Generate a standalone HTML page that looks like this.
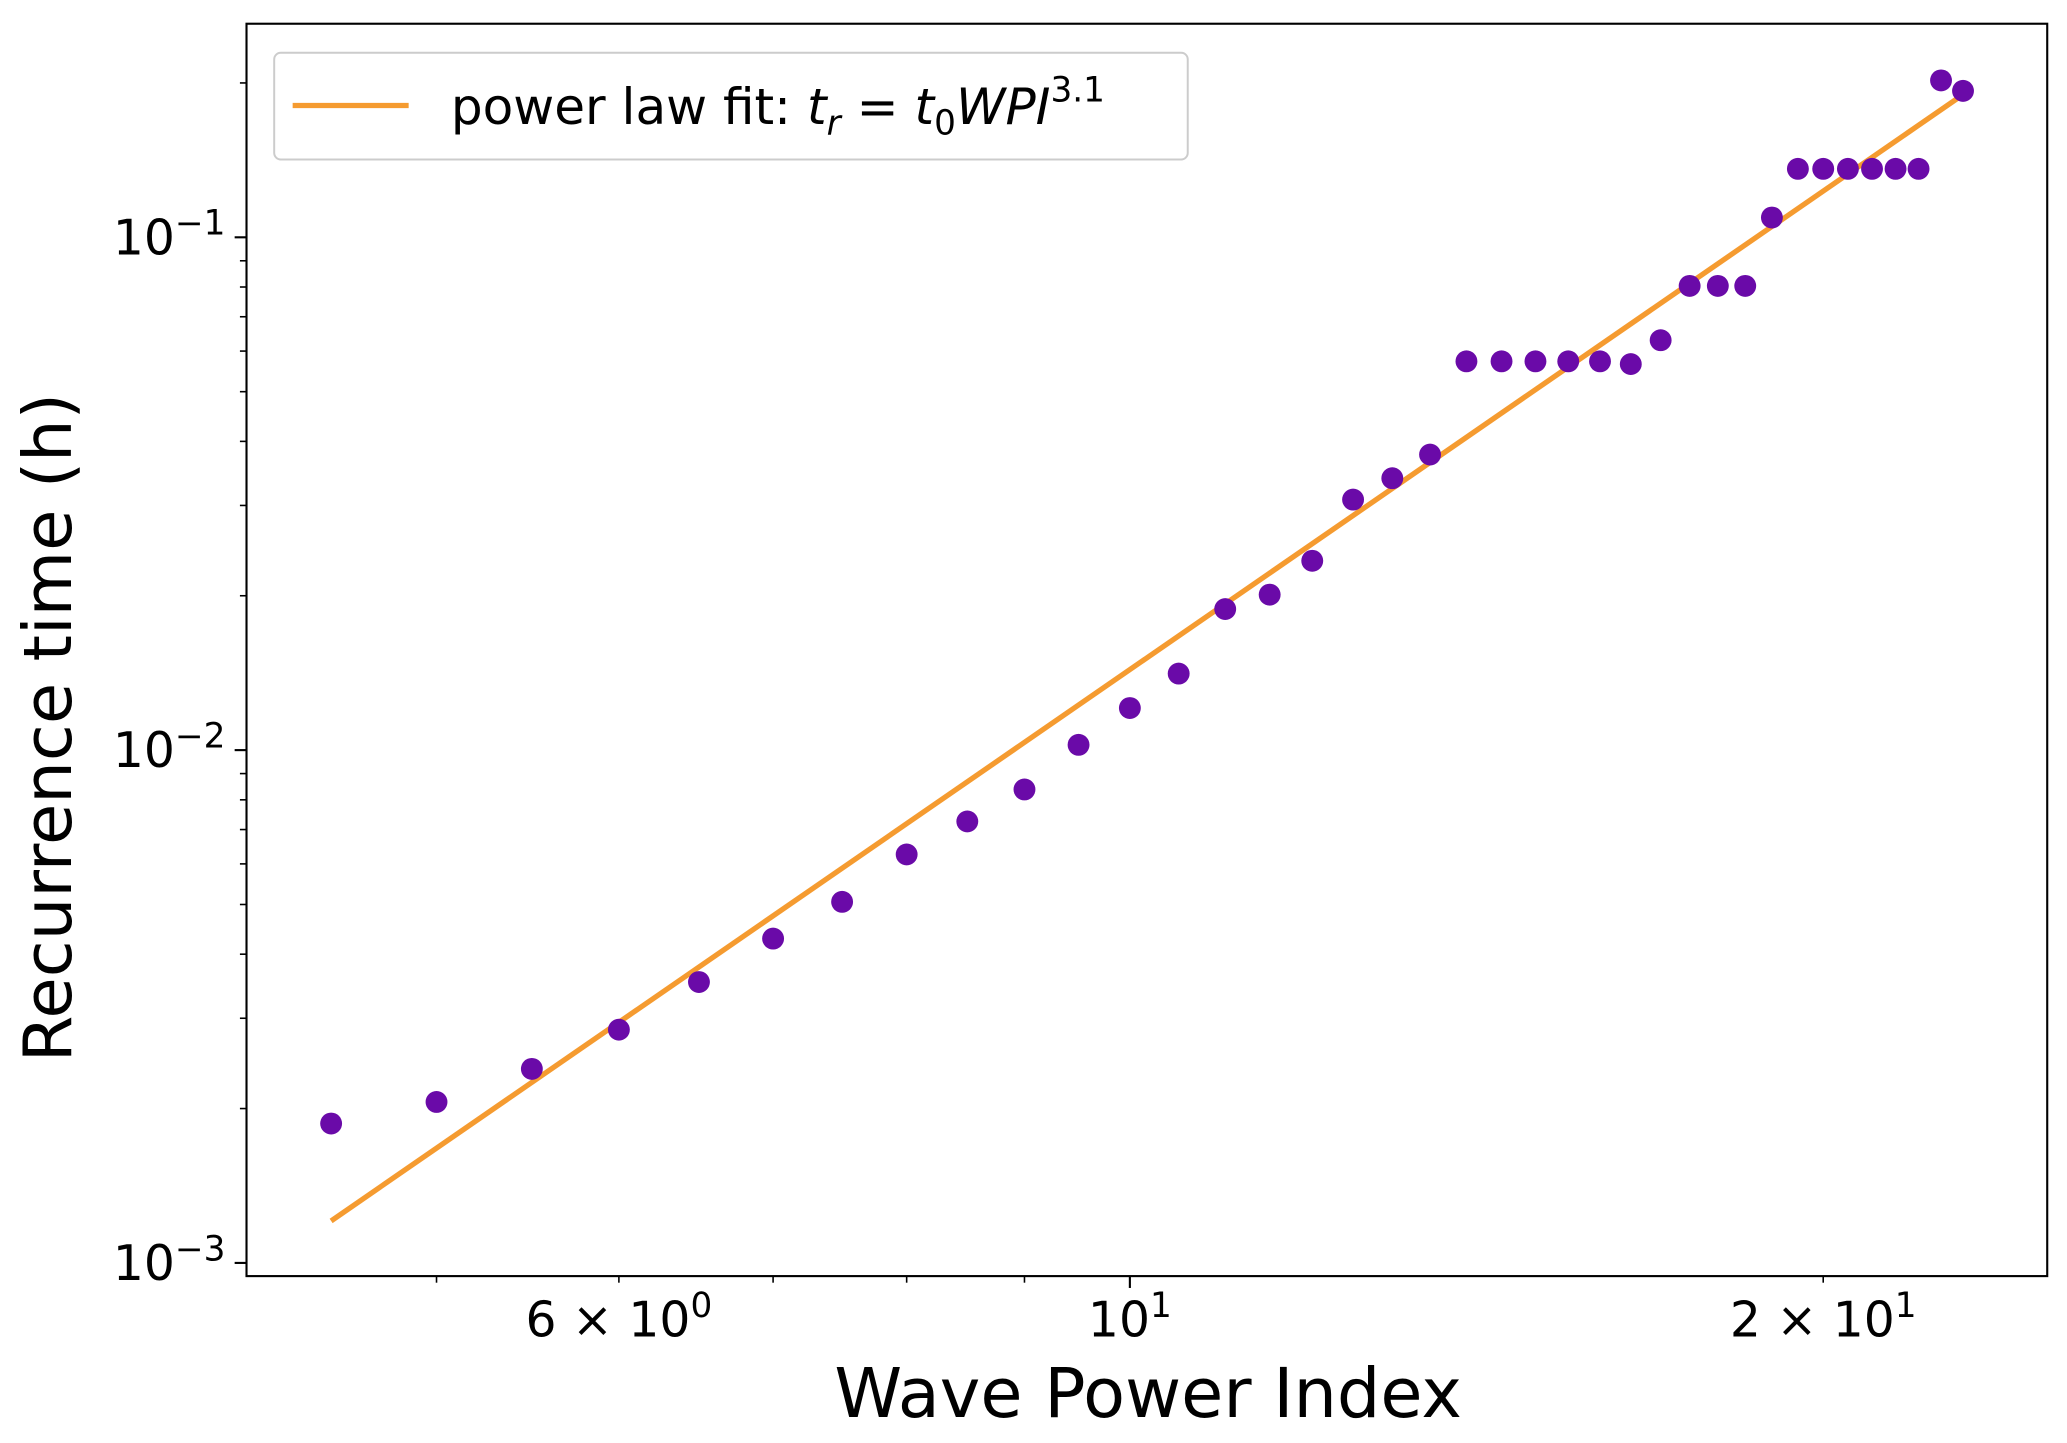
<!DOCTYPE html>
<html><head><meta charset="utf-8"><style>
html,body{margin:0;padding:0;background:#fff;}
svg{display:block;font-family:"DejaVu Sans","Liberation Sans",sans-serif;}
</style></head><body>
<svg id="chart" width="2067" height="1443" viewBox="0 0 1568 1094.6" preserveAspectRatio="none" xmlns="http://www.w3.org/2000/svg">
<g id="plot"></g>
</svg>
<script>
const wpi = [4.5,5,5.5,6,6.5,7,7.5,8,8.5,9,9.5,10,10.5,11,11.5,12,12.5,13,13.5,14,14.5,15,15.5,16,16.5,17,17.5,18,18.5,19,19.5,20,20.5,21,21.5,22,22.5,23];
const recurrence = [0.00187,0.00206,0.00239,0.00285,0.00353,0.00429,0.00506,0.00626,0.00726,0.00838,0.01024,0.01208,0.0141,0.01884,0.0201,0.0234,0.0308,0.0339,0.0377,0.0573,0.0573,0.0573,0.0573,0.0573,0.0566,0.0630,0.0804,0.0804,0.0804,0.1093,0.136,0.136,0.136,0.136,0.136,0.136,0.2023,0.193];
const fitExponent = 3.1;
const fitLogT0 = -4.943;
const xMajorTicks = [10];
const xMinorTicks = [5,6,7,8,9,20];
const xMinorLabels = {6:"6", 20:"2"};
const yMajorTicks = [0.001,0.01,0.1];

const L=187,R=1553,T=18,B=968;
const xLogMin=Math.log10(4.135), xLogMax=Math.log10(25.02);
const yLogMin=-3.0257, yLogMax=-0.5835;
const X=v=>L+(Math.log10(v)-xLogMin)/(xLogMax-xLogMin)*(R-L);
const Y=v=>B-(Math.log10(v)-yLogMin)/(yLogMax-yLogMin)*(B-T);
const NS="http://www.w3.org/2000/svg";
const g=document.getElementById('plot');
function mk(tag,attrs,parent){const e=document.createElementNS(NS,tag);for(const k in attrs)e.setAttribute(k,attrs[k]);(parent||g).appendChild(e);return e;}

const frame=mk('rect',{x:L,y:T,width:R-L,height:B-T,fill:'none',stroke:'#000','stroke-width':1.6});



xMajorTicks.forEach(v=>{
  const x=X(v);
  const t=mk('line',{x1:x,x2:x,y1:B,y2:B+9,stroke:'#000','stroke-width':1.6});
  
  
  const tx=mk('text',{x:x,y:B+46,'font-size':37,'text-anchor':'middle'});
  
  
  tx.innerHTML='10<tspan dy="-15" font-size="26">1</tspan>';
});
xMinorTicks.forEach(v=>{
  const x=X(v);
  const t=mk('line',{x1:x,x2:x,y1:B,y2:B+5,stroke:'#000','stroke-width':1.2});
  
  
  if(xMinorLabels[v]){
    const tx=mk('text',{x:x,y:B+46,'font-size':37,'text-anchor':'middle'});
    
    
    const ex = v>=10?1:0;
    tx.innerHTML=xMinorLabels[v]+' × 10<tspan dy="-15" font-size="26">'+ex+'</tspan>';
  }
});
yMajorTicks.forEach(v=>{
  const y=Y(v);
  const t=mk('line',{x1:L-9,x2:L,y1:y,y2:y,stroke:'#000','stroke-width':1.6});
  
  
  const tx=mk('text',{x:L-16,y:y+13,'font-size':37,'text-anchor':'end'});
  
  
  tx.innerHTML='10<tspan dy="-15" font-size="26">−'+Math.round(-Math.log10(v))+'</tspan>';
});
for(let d=-3;d<=-1;d++){for(let m=2;m<=9;m++){
  const v=m*Math.pow(10,d); const lv=Math.log10(v);
  if(lv<yLogMin||lv>yLogMax) continue;
  const y=Y(v);
  const t=mk('line',{x1:L-5,x2:L,y1:y,y2:y,stroke:'#000','stroke-width':1.2});
  
  
}}

const x0=wpi[0], x1=wpi[wpi.length-1];
const f=v=>Math.pow(10,fitLogT0+fitExponent*Math.log10(v));
const fit=mk('line',{x1:X(x0),y1:Y(f(x0)),x2:X(x1),y2:Y(f(x1)),stroke:'#f59b30','stroke-width':4});



wpi.forEach((v,i)=>{
  const c=mk('circle',{cx:X(v),cy:Y(recurrence[i]),r:8.3,fill:'#6a0aa8'});
  
  
});

const xl=mk('text',{x:871,y:1075,'font-size':52,'text-anchor':'middle'});


xl.textContent='Wave Power Index';
const yl=mk('text',{x:0,y:0,'font-size':51,'text-anchor':'middle',transform:'translate(54,552) rotate(-90)'});


yl.textContent='Recurrence time (h)';

const lg=mk('g',{});


mk('rect',{x:208,y:40,width:693,height:81,rx:5,fill:'#fff',stroke:'#ccc','stroke-width':1.5},lg);
mk('line',{x1:222,x2:310,y1:80,y2:80,stroke:'#f59b30','stroke-width':4},lg);
const lt=mk('text',{x:342,y:94,'font-size':38},lg);


lt.innerHTML='power law fit: <tspan font-style="italic">t</tspan><tspan font-size="26" dy="8" font-style="italic">r</tspan><tspan dy="-8"> = </tspan><tspan font-style="italic">t</tspan><tspan font-size="26" dy="8">0</tspan><tspan dy="-8" font-style="italic">WPI</tspan><tspan font-size="26" dy="-17">3.1</tspan>';
</script>
</body></html>
